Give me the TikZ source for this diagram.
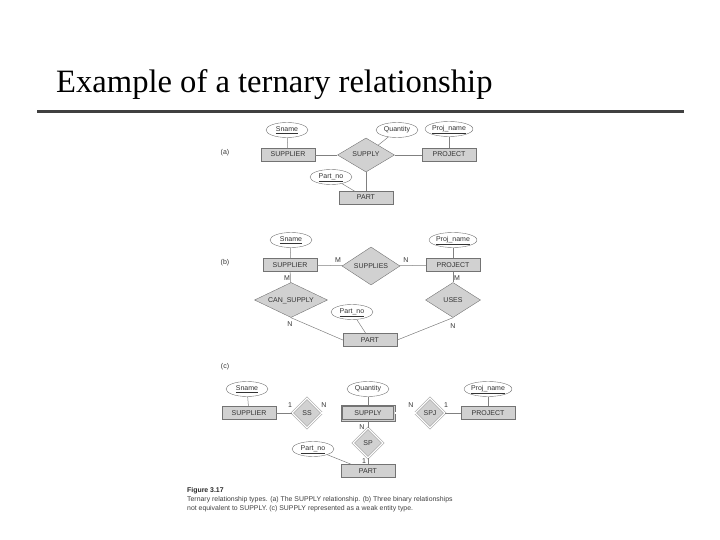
\documentclass[tikz,border=0pt]{standalone}
\usepackage{fontspec}
\setmainfont{Liberation Serif}
\newfontfamily\figfont{Liberation Sans}
\usetikzlibrary{shapes.geometric}
\newcommand{\figtext}{\figfont\fontsize{7}{8}\selectfont}
\newcommand{\captext}{\figfont\fontsize{6.9}{8}\selectfont}

\begin{document}
\begin{tikzpicture}[x=1pt, y=-1pt]
  \tikzstyle{entity} = [rectangle, draw=black!55, fill=black!18, minimum width=54pt, minimum height=13pt, inner sep=0pt, text height=5pt, text depth=1pt, font=\figtext, text=black!80]
  \tikzstyle{weak} = [entity, minimum height=16pt, path picture={\draw [black!55] ([shift={(1.6pt,-1.6pt)}]path picture bounding box.north west) rectangle ([shift={(-1.6pt,1.6pt)}]path picture bounding box.south east);}]
  \tikzstyle{rel} = [diamond, draw=black!55, fill=black!18, inner sep=0pt, aspect=1.7, text height=5pt, text depth=1pt, font=\figtext, text=black!80]
  \tikzstyle{idrel} = [rel, double, double distance=1.4pt, minimum width=30pt, minimum height=30pt, aspect=1]
  \tikzstyle{attr} = [ellipse, draw=black!55, fill=white, minimum width=42pt, minimum height=15pt, inner sep=0pt, text height=5pt, text depth=2pt, font=\figtext, text=black!80]
  \tikzstyle{card} = [inner sep=0pt, font=\figtext, text=black!80]
  \tikzstyle{conn} = [draw=black!50, line width=0.5pt]
  \tikzstyle{total} = [draw=black!50, line width=0.5pt, double, double distance=1.2pt]

  \useasboundingbox (0,0) rectangle (720,540);

  % Title
  \node [anchor=base west, inner sep=0pt, font=\fontsize{32.6}{36}\selectfont] (title) at (56,93) {Example of a ternary relationship};
  \coordinate (ruleL) at (37,111.5);
  \coordinate (ruleR) at (684,111.5);
  \draw [line width=2.4pt, black!75] (ruleL) -- (ruleR);

  % (a) ternary SUPPLY
  \node [card] (labA) at (225,153) {(a)};
  \node [attr] (snameA) at (287,130) {\underline{Sname}};
  \node [attr] (quantityA) at (397,130) {Quantity};
  \node [attr] (projnameA) at (449,129) {\underline{Proj\_name}};
  \node [entity] (supplierA) at (288,155) {SUPPLIER};
  \node [rel, minimum width=57pt, minimum height=34pt] (supplyA) at (366,155) {SUPPLY};
  \node [entity] (projectA) at (449,155) {PROJECT};
  \node [attr] (partnoA) at (331,177) {\underline{Part\_no}};
  \node [entity] (partA) at (366,198) {PART};

  \draw [conn] (snameA) -- (supplierA);
  \draw [conn] (supplierA) -- (supplyA);
  \draw [conn] (supplyA) -- (projectA);
  \draw [conn] (quantityA) -- (supplyA);
  \draw [conn] (projnameA) -- (projectA);
  \draw [conn] (supplyA) -- (partA);
  \draw [conn] (partnoA) -- (partA);

  % (b) three binary relationships
  \node [card] (labB) at (225,263) {(b)};
  \node [attr] (snameB) at (291,240) {\underline{Sname}};
  \node [attr] (projnameB) at (453,240) {\underline{Proj\_name}};
  \node [entity] (supplierB) at (290,265) {SUPPLIER};
  \node [rel, minimum width=58pt, minimum height=38pt] (suppliesB) at (371,266) {SUPPLIES};
  \node [entity] (projectB) at (453,265) {PROJECT};
  \node [rel, minimum width=73pt, minimum height=35pt, aspect=2] (cansupplyB) at (291,300) {CAN\_SUPPLY};
  \node [rel, minimum width=55pt, minimum height=35pt] (usesB) at (453,300) {USES};
  \node [attr] (partnoB) at (352,312) {\underline{Part\_no}};
  \node [entity] (partB) at (370,340) {PART};

  \node [card] (mSupB) at (338,260) {M};
  \node [card] (nSupB) at (406,260) {N};
  \node [card] (mCanB) at (287,278) {M};
  \node [card] (mUseB) at (457,278) {M};
  \node [card] (nCanB) at (290,324) {N};
  \node [card] (nUseB) at (453,326) {N};

  \draw [conn] (snameB) -- (supplierB);
  \draw [conn] (projnameB) -- (projectB);
  \draw [conn] (supplierB) -- (suppliesB);
  \draw [conn] (suppliesB) -- (projectB);
  \draw [conn] (supplierB) -- (cansupplyB);
  \draw [conn] (projectB) -- (usesB);
  \draw [conn] (cansupplyB.south) -- (partB.west);
  \draw [conn] (usesB.south) -- (partB.east);
  \draw [conn] (partnoB) -- (partB);

  % (c) SUPPLY as a weak entity
  \node [card] (labC) at (225,367) {(c)};
  \node [attr] (snameC) at (247,389) {\underline{Sname}};
  \node [attr] (quantityC) at (368,389) {Quantity};
  \node [attr] (projnameC) at (488,389) {\underline{Proj\_name}};
  \node [entity] (supplierC) at (249,413) {SUPPLIER};
  \node [idrel] (ssC) at (307,413) {SS};
  \node [weak] (supplyC) at (368,413) {SUPPLY};
  \node [idrel] (spjC) at (430,413) {SPJ};
  \node [entity] (projectC) at (488,413) {PROJECT};
  \node [idrel] (spC) at (368,443) {SP};
  \node [attr] (partnoC) at (313,449) {\underline{Part\_no}};
  \node [entity] (partC) at (368,471) {PART};

  \node [card] (oneSsC) at (290,405) {1};
  \node [card] (nSsC) at (324,405) {N};
  \node [card] (nSpjC) at (411,405) {N};
  \node [card] (oneSpjC) at (446,405) {1};
  \node [card] (nSpC) at (362,427) {N};
  \node [card] (oneSpC) at (364,461) {1};

  \draw [conn] (snameC) -- (supplierC);
  \draw [conn] (quantityC) -- (supplyC);
  \draw [conn] (projnameC) -- (projectC);
  \draw [conn] (supplierC) -- (ssC);
  \draw [total] (ssC) -- (supplyC);
  \draw [total] (supplyC) -- (spjC);
  \draw [conn] (spjC) -- (projectC);
  \draw [conn] (supplyC) -- (spC);
  \draw [conn] (spC) -- (partC);
  \draw [conn] (partnoC) -- (partC);

  % Caption
  \node [anchor=base west, inner sep=0pt, font=\captext\bfseries, text=black!85] (capHead) at (187,492) {Figure 3.17};
  \node [anchor=base west, inner sep=0pt, font=\captext, text=black!75] (capLine1) at (187,501) {Ternary relationship types. (a) The SUPPLY relationship. (b) Three binary relationships};
  \node [anchor=base west, inner sep=0pt, font=\captext, text=black!75] (capLine2) at (187,510) {not equivalent to SUPPLY. (c) SUPPLY represented as a weak entity type.};

\end{tikzpicture}
\end{document}
